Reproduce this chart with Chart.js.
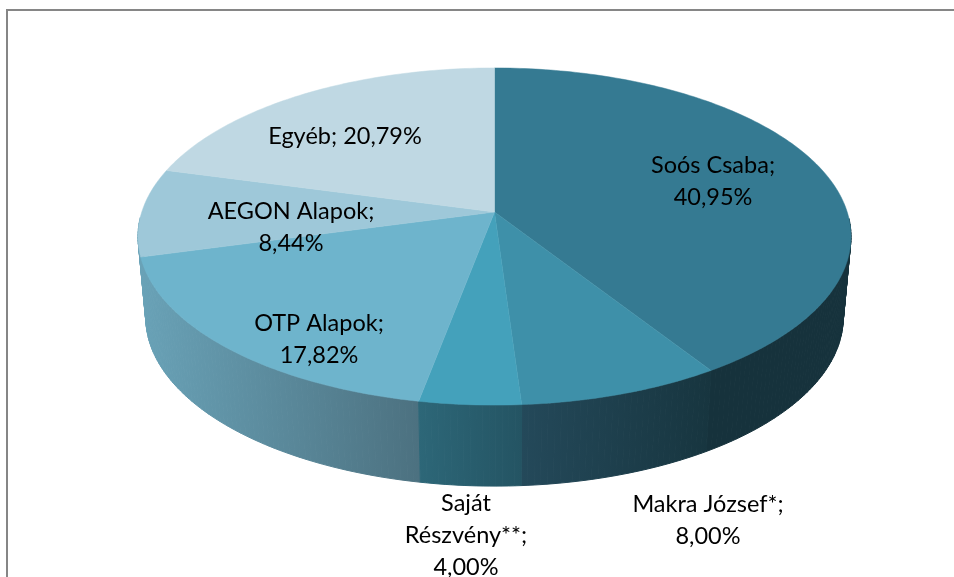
<!DOCTYPE html>
<html>
<head>
<meta charset="utf-8">
<title>Tulajdonosi szerkezet</title>
<script src="https://cdn.jsdelivr.net/npm/chart.js@4/dist/chart.umd.min.js"></script>
<style>
    html, body { margin: 0; padding: 0; background: #fff; overflow: hidden; }
    canvas { display: block; }
</style>
</head>
<body>
<canvas id="pieChart" width="954" height="577"></canvas>
<script>
// Data
var categories = ['Soós Csaba', 'Makra József*', 'Saját Részvény**', 'OTP Alapok', 'AEGON Alapok', 'Egyéb'];
var values = [40.95, 8.00, 4.00, 17.82, 8.44, 20.79];

// Slice colours: top face, then wall gradient left and right
var topColors = ['#357a92', '#3e90a9', '#44a1bb', '#6eb4cc', '#9ec8d9', '#bfd8e3'];
var wallLeft = ['#16323c', '#24495a', '#2d6778', '#69a2b7', '#69a2b7', '#69a2b7'];
var wallRight = ['#16323c', '#17353f', '#245463', '#4c7180', '#69a2b7', '#69a2b7'];

// Label layout: lines of text and where each block sits
var labelLines = [
    ['Soós Csaba;', '40,95%'],
    ['Makra József*;', '8,00%'],
    ['Saját', 'Részvény**;', '4,00%'],
    ['OTP Alapok;', '17,82%'],
    ['AEGON Alapok;', '8,44%'],
    ['Egyéb; 20,79%']
];
var labelAnchors = [[713, 165], [708, 504], [466, 503], [319, 323], [291, 211], [345, 136]];
var labelLeading = 32;

// Perspective of the disc, top face and bottom face
var topFace = { cx: 494.5, cy: 212, a: 352.7, b: 165 };
var bottomFace = { cx: 494.5, cy: 293, a: 345, b: 165 };
var tilt = 0.1455;

function project(face, angle) {
    // Chart.js angle: -PI/2 is twelve o'clock
    var u = Math.cos(angle);
    var v = Math.sin(angle);
    var w = 1 - tilt * v;
    return { x: face.cx + face.a * u / w, y: face.cy + face.b * v / w };
}

function samples(start, end) {
    var list = [];
    var n = Math.max(2, Math.ceil((end - start) * 60));
    for (var i = 0; i <= n; i++) {
        list.push(start + (end - start) * i / n);
    }
    return list;
}

function drawWall(ctx, arc, i) {
    var angles = samples(arc.startAngle, arc.endAngle);
    var first = project(topFace, angles[0]).x;
    var last = project(topFace, angles[angles.length - 1]).x;
    var grad = ctx.createLinearGradient(Math.min(first, last), 0, Math.max(first, last), 0);
    grad.addColorStop(0, wallLeft[i]);
    grad.addColorStop(1, wallRight[i]);
    ctx.fillStyle = grad;
    ctx.strokeStyle = grad;
    ctx.lineWidth = 1;

    // One quad per step, the wall folds over itself at the sides of the disc
    for (var k = 0; k < angles.length - 1; k++) {
        // the far half of the wall is hidden behind the top face
        if (Math.sin(angles[k]) < 0.05 && Math.sin(angles[k + 1]) < 0.05) {
            continue;
        }
        var t0 = project(topFace, angles[k]);
        var t1 = project(topFace, angles[k + 1]);
        var b0 = project(bottomFace, angles[k]);
        var b1 = project(bottomFace, angles[k + 1]);
        ctx.beginPath();
        ctx.moveTo(t0.x, t0.y);
        ctx.lineTo(t1.x, t1.y);
        ctx.lineTo(b1.x, b1.y);
        ctx.lineTo(b0.x, b0.y);
        ctx.closePath();
        ctx.fill();
        ctx.stroke();
    }
}

function drawTop(ctx, arc, i) {
    ctx.beginPath();
    ctx.moveTo(topFace.cx, topFace.cy);
    samples(arc.startAngle, arc.endAngle).forEach(function (a) {
        var p = project(topFace, a);
        ctx.lineTo(p.x, p.y);
    });
    ctx.closePath();
    ctx.fillStyle = topColors[i];
    ctx.strokeStyle = topColors[i];
    ctx.lineWidth = 0.5;
    ctx.fill();
    ctx.stroke();
}

// Chart.js has no 3D pie, so the arcs it computes are drawn through the projection
var pie3d = {
    id: 'pie3d',
    beforeDatasetDraw: function (chart, args) {
        var ctx = chart.ctx;
        var arcs = args.meta.data;
        ctx.save();
        // back slices first so the front walls stay on top
        [5, 4, 0, 3, 1, 2].forEach(function (i) {
            drawWall(ctx, arcs[i], i);
        });
        arcs.forEach(function (arc, i) {
            drawTop(ctx, arc, i);
        });
        ctx.restore();
        return false;
    },
    afterDraw: function (chart) {
        var ctx = chart.ctx;
        ctx.save();
        // Chart area frame
        ctx.strokeStyle = '#868686';
        ctx.lineWidth = 2;
        ctx.beginPath();
        ctx.moveTo(7, 577);
        ctx.lineTo(7, 10);
        ctx.lineTo(954, 10);
        ctx.stroke();
        // Data labels
        ctx.fillStyle = '#000';
        ctx.font = '23.5px Lato';
        ctx.textAlign = 'center';
        ctx.textBaseline = 'middle';
        labelLines.forEach(function (lines, i) {
            lines.forEach(function (line, k) {
                ctx.fillText(line, labelAnchors[i][0], labelAnchors[i][1] + k * labelLeading);
            });
        });
        ctx.restore();
    }
};

new Chart(document.getElementById('pieChart').getContext('2d'), {
    type: 'pie',
    data: {
        labels: categories,
        datasets: [{
            data: values,
            backgroundColor: topColors,
            borderWidth: 0
        }]
    },
    options: {
        responsive: false,
        animation: false,
        plugins: {
            legend: { display: false },
            tooltip: { enabled: false }
        }
    },
    plugins: [pie3d]
});
</script>
</body>
</html>
